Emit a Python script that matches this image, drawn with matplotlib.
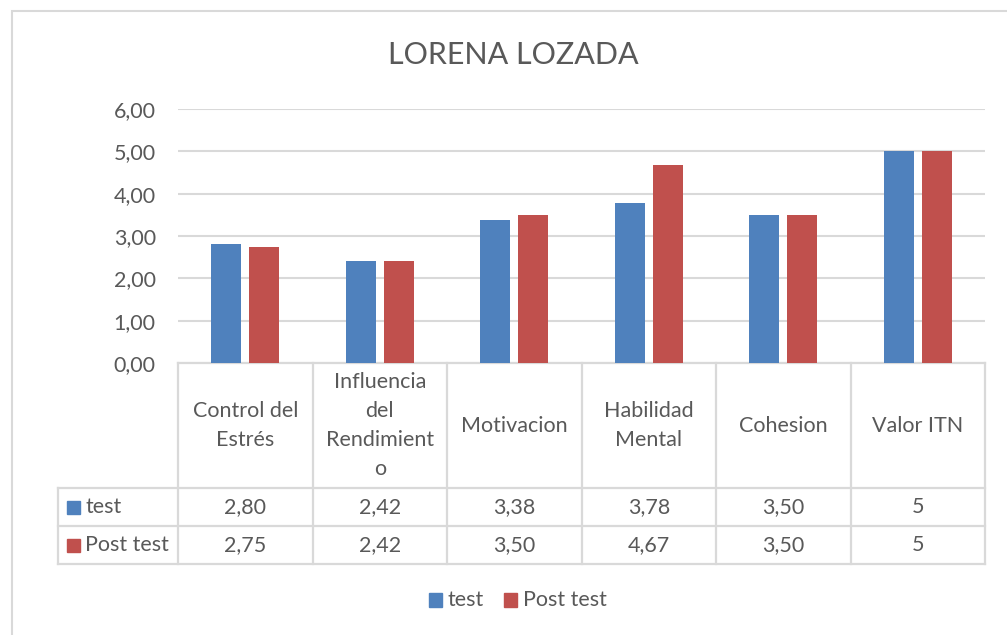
import matplotlib.pyplot as plt
import matplotlib.transforms as mtransforms
from matplotlib.patches import Rectangle

# datos del grafico
categorias = ['Control del\nEstrés', 'Influencia\ndel\nRendimient\no', 'Motivacion',
              'Habilidad\nMental', 'Cohesion', 'Valor ITN']
test = [2.80, 2.42, 3.38, 3.78, 3.50, 5]
post_test = [2.75, 2.42, 3.50, 4.67, 3.50, 5]
test_txt = ['2,80', '2,42', '3,38', '3,78', '3,50', '5']
post_txt = ['2,75', '2,42', '3,50', '4,67', '3,50', '5']
series = ['test', 'Post test']
y_ticks = [0, 1, 2, 3, 4, 5, 6]

azul = '#4F81BD'
rojo = '#C0504D'
gris = '#595959'
linea = '#D9D9D9'
fs = 15.5
plt.rcParams['font.family'] = ['Lato', 'DejaVu Sans']

W, H = 1007, 635
fig = plt.figure(figsize=(W / 100, H / 100), dpi=100)

# borde del area del grafico
fig.patches.append(Rectangle((12 / W, -0.1), 1.2, 1 - 11 / H + 0.1, transform=fig.transFigure,
                             fill=False, edgecolor=linea, linewidth=1.5))

ax = fig.add_axes([178 / W, 1 - 363 / H, 807 / W, 254 / H])
x = list(range(len(categorias)))
ancho = 0.223
ax.bar([i - 0.141 for i in x], test, ancho, color=azul, zorder=3)
ax.bar([i + 0.141 for i in x], post_test, ancho, color=rojo, zorder=3)
ax.set_xlim(-0.5, 5.5)
ax.set_ylim(0, 6)
ax.set_yticks(y_ticks)
ax.set_yticklabels(['%d,00' % v for v in y_ticks], fontsize=fs, color=gris)
ax.tick_params(axis='y', length=0, pad=16)
ax.set_xticks([])
for s in ax.spines.values():
    s.set_visible(False)
ax.grid(axis='y', color=linea, linewidth=1.5, zorder=0)

fig.text(513 / W, 1 - 55 / H, 'LORENA LOZADA', fontsize=22, color=gris, ha='center', va='center')

# tabla de datos
tr = mtransforms.blended_transform_factory(ax.transData, ax.transAxes)
y_head = -125 / 254
y_test = -163 / 254
y_post = -201 / 254
x_lab = -0.5 - 120 / 134.5
kw = dict(color=linea, linewidth=1.6, transform=tr, clip_on=False)
ax.plot([-0.5, 5.5], [0, 0], **kw)
for yy in [y_head, y_test, y_post]:
    ax.plot([x_lab, 5.5], [yy, yy], **kw)
ax.plot([x_lab, x_lab], [y_head, y_post], **kw)
for k in range(7):
    ax.plot([k - 0.5, k - 0.5], [0, y_post], **kw)

for i, c in enumerate(categorias):
    ax.text(i, y_head / 2, c, transform=tr, ha='center', va='center', fontsize=fs,
            color=gris, linespacing=1.55)
    ax.text(i, (y_head + y_test) / 2, test_txt[i], transform=tr, ha='center', va='center',
            fontsize=fs, color=gris)
    ax.text(i, (y_test + y_post) / 2, post_txt[i], transform=tr, ha='center', va='center',
            fontsize=fs, color=gris)

for yy0, yy1, nombre, col in [(y_head, y_test, series[0], azul), (y_test, y_post, series[1], rojo)]:
    yc = (yy0 + yy1) / 2
    ax.add_patch(Rectangle((x_lab + 9 / 134.5, yc - 6.5 / 254), 13 / 134.5, 13 / 254,
                           transform=tr, color=col, clip_on=False))
    ax.text(x_lab + 27 / 134.5, yc, nombre, transform=tr, ha='left', va='center',
            fontsize=fs, color=gris)

# leyenda inferior
for x0, nombre, col in [(429, series[0], azul), (504, series[1], rojo)]:
    fig.patches.append(Rectangle((x0 / W, 1 - 607 / H), 13 / W, 14 / H, transform=fig.transFigure,
                                 color=col))
    fig.text((x0 + 19) / W, 1 - 600 / H, nombre, fontsize=fs, color=gris, ha='left', va='center')

plt.savefig('out.png', dpi=100)
